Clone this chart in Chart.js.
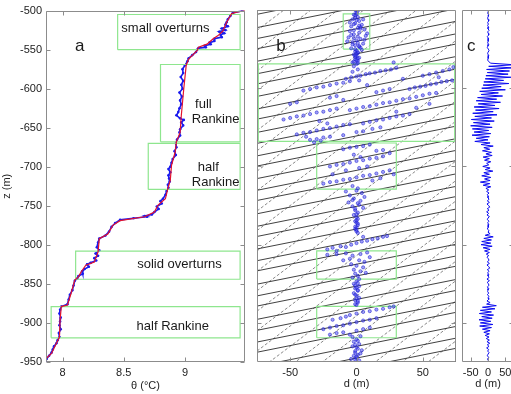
<!DOCTYPE html>
<html>
<head>
<meta charset="utf-8">
<script src="https://cdn.jsdelivr.net/npm/chart.js@4/dist/chart.umd.min.js"></script>
<style>
html, body { margin: 0; padding: 0; background: #fff; overflow: hidden; width: 511px; height: 394px; }
canvas { position: absolute; left: 0; top: 0; }
</style>
</head>
<body>
<canvas id="pa" width="511" height="394"></canvas>
<canvas id="pb" width="511" height="394"></canvas>
<canvas id="pc" width="530" height="394"></canvas>
<script>
// ---- tick values ----
var zTicks = [-500, -550, -600, -650, -700, -750, -800, -850, -900, -950];
var zTicksSide = [-600, -700, -800, -900];
var thetaTicks = [8, 8.5, 9];
var dTicks = [-50, 0, 50];

// ---- panel a: sorted (red) and observed (blue) profiles ----
var zSorted = [-500, -502, -504, -515, -526, -532, -536, -543, -547, -551, -562, -570, -600, -634, -656, -668, -681, -698, -717,
  -728, -741, -749, -758, -764, -769, -775, -786, -792, -809, -822, -826, -835, -841, -845, -862, -877, -879, -896, -918,
  -926, -939, -945, -950];
var thetaSorted = [9.49, 9.42, 9.38, 9.34, 9.31, 9.27, 9.23, 9.18, 9.11, 9.10, 9.03, 9.01, 8.99, 8.97, 8.96, 8.93, 8.92, 8.89, 8.88,
  8.86, 8.84, 8.78, 8.75, 8.67, 8.47, 8.41, 8.37, 8.30, 8.29, 8.26, 8.19, 8.15, 8.13, 8.10, 8.07, 8.04, 7.99, 7.98, 7.975,
  7.95, 7.91, 7.87, 7.86];

var zObs = [-500, -503, -507, -511, -515, -518, -520, -523, -525, -527, -529, -531, -534, -536, -539, -541, -543, -545, -547, -548,
  -550, -553, -557, -561, -565, -570, -575, -580, -585, -590, -595, -600, -605, -610, -615, -620, -625, -630, -634, -638,
  -640, -643, -647, -652, -656, -660, -665, -670, -675, -680, -685, -690, -695, -700, -703, -707, -711, -715, -719, -723,
  -727, -731, -736, -741, -744, -747, -751, -754, -758, -761, -763, -764, -766, -768, -772, -777, -783, -788, -792, -797,
  -803, -807, -811, -814, -817, -820, -823, -825, -828, -831, -834, -837, -840, -843, -846, -852, -858, -864, -870, -876,
  -879, -883, -888, -893, -898, -903, -908, -913, -918, -922, -926, -930, -934, -938, -942, -946, -950];
var thetaObs = [9.47, 9.39, 9.37, 9.35, 9.34, 9.33, 9.35, 9.30, 9.33, 9.28, 9.32, 9.29, 9.30, 9.24, 9.24, 9.20, 9.21, 9.16, 9.17, 9.11,
  9.10, 9.09, 9.06, 9.03, 9.02, 9.00, 8.98, 8.985, 8.965, 8.985, 8.97, 8.98, 8.955, 8.975, 8.96, 8.97, 8.955, 8.945, 8.93, 8.96,
  8.99, 8.97, 8.985, 8.96, 8.955, 8.96, 8.935, 8.925, 8.93, 8.915, 8.925, 8.90, 8.89, 8.88, 8.865, 8.88, 8.865, 8.87, 8.875, 8.86,
  8.865, 8.85, 8.84, 8.82, 8.80, 8.81, 8.77, 8.785, 8.75, 8.73, 8.67, 8.69, 8.58, 8.47, 8.43, 8.40, 8.38, 8.35, 8.30, 8.29,
  8.28, 8.30, 8.27, 8.29, 8.26, 8.275, 8.23, 8.20, 8.215, 8.18, 8.16, 8.165, 8.13, 8.12, 8.10, 8.09, 8.08, 8.06, 8.05, 8.04,
  7.99, 7.98, 7.975, 7.985, 7.98, 7.975, 7.985, 7.97, 7.975, 7.96, 7.95, 7.93, 7.92, 7.91, 7.89, 7.87, 7.86];

// ---- boxes [xmin, xmax, zmin, zmax] ----
var boxesA = [[8.45, 9.45, -550, -505], [8.80, 9.45, -668, -569], [8.70, 9.45, -729, -670], [8.107, 9.45, -844, -808], [7.907, 9.45, -919, -879]];
var boxesB = [[-10, 10, -550, -505], [-74, 74, -668, -569], [-30, 30, -729, -670], [-30, 30, -844, -808], [-30, 30, -919, -879]];

// ---- panel b: displacement scatter [d, z] by layer ----
var ptsTop = [[-1,-500],[0,-503],[-2,-506],[1,-509],[-3,-512],[2,-514],[-1,-517],[4,-519],[-4,-521],[1,-523],[6,-525],[-5,-527],
  [2,-529],[-2,-531],[7,-533],[-6,-535],[3,-537],[0,-539],[-3,-541],[5,-543],[-1,-545],[2,-547],[-4,-549],[8,-530],[-7,-540],
  [4,-551],[-1,-553],[1,-555],[-2,-557],[0,-559],[2,-561],[-1,-563],[1,-565],[-3,-567],[0,-569],[5,-512],[-5,-516],[3,-522],
  [-2,-526],[6,-538],[-3,-544],[1,-534],[3,-548],[0,-505],[-1,-510],[2,-520],[-2,-536],[1,-542],[0,-552],[-1,-560],
  [1,-501],[-1,-507],[0,-513],[-2,-518],[3,-524],[-4,-532],[2,-546],[-1,-550],[1,-554],[0,-556],[-1,-558],[1,-562],[0,-564],[-2,-566],[1,-568]];
var ptsFull = [[-8,-588],[-4,-586],[0,-585],[3,-584],[7,-582],[10,-581],[14,-580],[18,-578],[22,-577],[26,-576],[30,-574],
  [40,-601],[44,-599],[48,-598],[52,-597],[56,-595],[60,-594],[64,-592],[68,-591],[72,-590],
  [50,-584],[55,-582],[60,-580],[65,-578],[70,-576],[73,-573],[28,-567],
  [-40,-603],[-35,-601],[-30,-599],[-25,-598],[-20,-596],[-15,-594],[-10,-593],[-5,-591],
  [-5,-628],[0,-626],[5,-624],[10,-623],[15,-621],[20,-619],[25,-618],[30,-616],[35,-614],[40,-613],[45,-611],[50,-609],[55,-607],[60,-606],
  [-55,-640],[-50,-638],[-45,-636],[-40,-635],[-35,-633],[-30,-631],[-25,-630],[-20,-628],[-15,-626],
  [-45,-659],[-40,-657],[-35,-656],[-30,-654],[-25,-652],[-20,-651],[-15,-649],[-10,-647],[-5,-646],
  [5,-645],[10,-643],[15,-641],[20,-640],[25,-638],[30,-636],[35,-635],[40,-633],
  [-35,-666],[-30,-665],[-27,-667],[-25,-663],[-20,-662],[-32,-669],
  [0,-656],[5,-655],[12,-652],[18,-650],[-10,-660],
  [15,-605],[20,-603],[25,-601],[-20,-612],[-15,-610],[-10,-615],[30,-630],[45,-625],[55,-620],[-50,-620],[-45,-618],
  [-2,-572],[1,-576],[-3,-579],[2,-590],[8,-596],[-28,-642],[-22,-645],[-38,-662],[62,-586],[35,-588]];
var ptsHalf = [[-20,-700],[-15,-698],[-10,-697],[-5,-695],[0,-693],[5,-692],[10,-690],[15,-689],[20,-687],
  [-25,-722],[-20,-720],[-15,-719],[-10,-717],[-5,-716],[0,-714],[5,-712],[10,-711],[15,-709],[20,-707],[25,-705],
  [-10,-678],[-5,-676],[0,-675],[5,-674],[10,-672],[15,-680],[20,-679],[25,-683],
  [-2,-685],[3,-688],[-8,-705],[2,-702],[8,-700],[-3,-725],[1,-728],[12,-718],[18,-715],[28,-710],[-18,-710]];
var ptsMid = [[-8,-732],[4,-734],[-5,-737],[6,-739],[-2,-741],[3,-744],[-6,-746],[2,-749],[-3,-751],[5,-753],[-1,-756],[1,-759],
  [-2,-762],[0,-765],[1,-767],[-1,-770],[0,-772],[1,-775],[0,-778],[-1,-780],[0,-783],
  [0,-731],[-3,-743],[1,-747],[-1,-754],[0,-761],[0,-769],[1,-773],[-1,-777],[0,-781],[1,-785],
  [-22,-806],[-18,-804],[-12,-802],[-8,-803],[-4,-800],[0,-798],[4,-796],[8,-795],[12,-793],[16,-792],[20,-790],[23,-789],[-15,-808],[5,-790]];
var ptsSolid = [[-22,-813],[-15,-812],[-8,-811],[-3,-814],[3,-812],[8,-810],[-5,-818],[2,-820],[6,-822],[-4,-825],[0,-827],[5,-829],
  [-2,-832],[3,-834],[-1,-837],[1,-840],[-3,-842],[2,-844],[10,-816],[-10,-820],[7,-836],
  [0,-847],[-2,-850],[2,-853],[-1,-856],[1,-859],[-2,-862],[0,-865],[2,-868],[-1,-871],[1,-874],[0,-877],
  [1,-849],[-1,-852],[0,-855],[1,-858],[-1,-864],[0,-869],[1,-872],[-1,-876]];
var ptsLow = [[-5,-890],[0,-888],[5,-886],[10,-885],[15,-883],[20,-882],[25,-880],[28,-879],
  [-25,-908],[-20,-906],[-15,-904],[-10,-903],[-5,-901],[0,-899],[5,-897],[10,-896],[15,-894],
  [-18,-896],[-12,-894],[-8,-892],[-20,-915],[-15,-913],[-10,-912],[-5,-915],[0,-910],[5,-908],[10,-906],[-3,-918],[3,-917],
  [0,-921],[-2,-924],[2,-927],[-3,-930],[1,-933],[-1,-936],[3,-939],[-2,-942],[0,-945],[2,-948],[-4,-946],[4,-935],[-1,-928],
  [1,-923],[0,-931],[-1,-938],[1,-941],[0,-943],[-1,-947]];

// ---- panel b: guide lines, z at d = 0 ----
var isoZ0 = [-468, -480, -497, -511, -524, -540, -556, -569, -585, -601, -614, -631, -645, -661, -674, -690, -705, -718, -735,
  -751, -764, -780, -795, -808, -825, -840, -853, -870, -884, -899, -912, -930, -945, -958, -975];
var isoSlope = 0.34;
var rayZ0 = [-1045, -1019, -994, -968, -942, -917, -891, -866, -840, -814, -789, -763, -738, -712, -686, -661, -635, -610,
  -584, -558, -533, -507, -482, -456, -430, -405];
var raySlope = 1.28;

// ---- panel c: displacement every 2 m from z = -500 ----
var cTop = -500, cStep = 2;
var dC = [
  0, 1, -1, 2, 1, -1, 0, 2, -1, 1,
  -1, 2, 0, 3, -1, 1, 2, -2, 1, 0,
  1, -1, 2, 0, -2, 1, 3, 0, -1, 2,
  0, 1, -1, 2, 8, 75, 2, 70, -4, 62,
  -2, 58, -6, 66, -8, 45, -12, 60, -14, 38,
  -18, 50, -24, 30, -20, 42, -30, 25, -34, 36,
  -28, 20, -40, 32, -36, 15, -44, 26, -38, 10,
  -48, 18, -42, 6, -50, 12, -45, 2, -40, 8,
  -46, 4, -34, 0, -38, 6, -20, 15, -12, 5,
  -16, 10, -6, 12, -14, 4, -10, 8, -4, 2,
  -15, 6, -8, 14, -12, 4, -18, 8, -10, 6,
  -22, 5, -14, 8, -6, 2, -4, 3, -2, 1,
  0, 3, -2, 4, -3, 2, 5, -2, 3, -4,
  2, -3, 4, 0, -2, 3, -1, 2, 0, 1,
  -2, 3, 0, 6, -8, 15, -12, 10, -18, 8,
  -20, 12, -14, 6, -10, 4, -5, 2, -3, 1,
  3, -2, 4, -3, 2, 5, -2, 3, -1, 2,
  0, 3, -3, 4, -2, 1, 3, -2, 2, 0,
  -1, 2, -2, 3, 0, 2, -3, 6, -4, 24,
  -16, 20, -22, 10, -25, 16, -18, 12, -26, 8,
  -22, 14, -24, 10, -16, 6, -12, 4, -8, 3,
  -5, 4, -3, 5, -2, 3, -4, 2, -1, 3,
  0, -2, 2, -1, 0
];

Chart.defaults.font.family = "'Liberation Sans', Arial, sans-serif";
Chart.defaults.font.size = 11;
Chart.defaults.color = '#222';
Chart.defaults.animation = false;
Chart.defaults.events = [];
Chart.defaults.plugins.legend.display = false;
Chart.defaults.plugins.tooltip.enabled = false;

// frame with inward ticks on all four sides (MATLAB style)
var frame = {
  id: 'frame',
  afterDatasetsDraw: function (chart) {
    var c = chart.ctx, a = chart.chartArea, sx = chart.scales.x, sy = chart.scales.y;
    var L = Math.round(a.left) + 0.5, R = Math.round(a.right) - 0.5, T = Math.round(a.top) + 0.5, B = Math.round(a.bottom) - 0.5;
    c.save();
    c.strokeStyle = '#8c8c8c';
    c.lineWidth = 1;
    c.beginPath();
    c.rect(L, T, R - L, B - T);
    sx.ticks.forEach(function (t) {
      var p = Math.round(sx.getPixelForValue(t.value)) + 0.5;
      c.moveTo(p, B); c.lineTo(p, B - 4);
      c.moveTo(p, T); c.lineTo(p, T + 4);
    });
    sy.ticks.forEach(function (t) {
      var p = Math.round(sy.getPixelForValue(t.value)) + 0.5;
      c.moveTo(L, p); c.lineTo(L + 4, p);
      c.moveTo(R, p); c.lineTo(R - 4, p);
    });
    c.stroke();
    c.restore();
  }
};

// text placed at data coordinates
var notes = {
  id: 'notes',
  afterDatasetsDraw: function (chart, args, opts) {
    var c = chart.ctx, sx = chart.scales.x, sy = chart.scales.y;
    c.save();
    c.fillStyle = '#1a1a1a';
    c.textAlign = 'center';
    c.textBaseline = 'middle';
    (opts.items || []).forEach(function (n) {
      c.font = (n.size || 13) + "px 'Liberation Sans', Arial, sans-serif";
      c.fillText(n.text, sx.getPixelForValue(n.x), sy.getPixelForValue(n.y));
    });
    c.restore();
  }
};

function boxSets(boxes) {
  return boxes.map(function (b) {
    return {
      data: [{x: b[0], y: b[2]}, {x: b[1], y: b[2]}, {x: b[1], y: b[3]}, {x: b[0], y: b[3]}, {x: b[0], y: b[2]}],
      showLine: true, borderColor: '#8ee68e', borderWidth: 1.2, pointRadius: 0, order: 1
    };
  });
}

function pairs(xs, ys) {
  return xs.map(function (v, i) { return {x: v, y: ys[i]}; });
}

function fixTicks(list) {
  return function (s) { s.ticks = list.map(function (v) { return {value: v}; }); };
}

function plain(v) { return String(v); }

function yScale(width, showLabels, tickList, title) {
  return {
    type: 'linear', min: -950, max: -500,
    grid: {display: false, drawTicks: false}, border: {display: false},
    ticks: {display: showLabels, padding: 4, callback: plain},
    afterBuildTicks: fixTicks(tickList),
    afterFit: function (s) { s.width = width; },
    title: {display: !!title, text: title || '', padding: {top: 0, bottom: 0}, font: {size: 11}}
  };
}

function xScale(min, max, tickList, title, pad) {
  return {
    type: 'linear', min: min, max: max,
    grid: {display: false, drawTicks: false}, border: {display: false},
    ticks: {padding: 4, maxRotation: 0, callback: plain},
    afterBuildTicks: fixTicks(tickList),
    afterFit: function (s) { s.height = 32; },
    title: {display: true, text: title, padding: {top: 0, bottom: pad}, font: {size: 11}}
  };
}

// ---- panel a ----
new Chart(document.getElementById('pa'), {
  type: 'scatter',
  data: {
    datasets: [
      {data: pairs(thetaSorted, zSorted), showLine: true, borderColor: '#e3122d', borderWidth: 1.2, pointRadius: 0, order: 0},
      {data: pairs(thetaObs, zObs), showLine: true, borderColor: '#1a1aee', borderWidth: 1.6,
        pointRadius: 1.3, pointBackgroundColor: '#1a1aee', pointBorderWidth: 0, order: 2}
    ].concat(boxSets(boxesA))
  },
  options: {
    responsive: false,
    layout: {padding: {left: 0, top: 10, right: 266, bottom: 0}},
    scales: {
      x: xScale(7.865, 9.49, thetaTicks, 'θ (°C)', 1),
      y: yScale(46, true, zTicks, 'z (m)')
    },
    plugins: {
      notes: {items: [
        {text: 'a', x: 8.14, y: -546, size: 17},
        {text: 'small overturns', x: 8.84, y: -523},
        {text: 'full', x: 9.15, y: -620},
        {text: 'Rankine', x: 9.25, y: -639},
        {text: 'half', x: 9.19, y: -701},
        {text: 'Rankine', x: 9.25, y: -720},
        {text: 'solid overturns', x: 8.955, y: -825},
        {text: 'half Rankine', x: 8.90, y: -905}
      ]}
    }
  },
  plugins: [frame, notes]
});

// ---- panel b ----
var bLines = isoZ0.map(function (z0) {
  return {data: [{x: -75, y: z0 - 75 * isoSlope}, {x: 75, y: z0 + 75 * isoSlope}],
    showLine: true, borderColor: '#2b2b2b', borderWidth: 0.9, pointRadius: 0, order: 3};
}).concat(rayZ0.map(function (z0) {
  return {data: [{x: -75, y: z0 - 75 * raySlope}, {x: 75, y: z0 + 75 * raySlope}],
    showLine: true, borderColor: '#555', borderWidth: 0.7, borderDash: [3, 2], pointRadius: 0, order: 3};
}));
var bPts = ptsTop.concat(ptsFull, ptsHalf, ptsMid, ptsSolid, ptsLow).map(function (p) { return {x: p[0], y: p[1]}; });

new Chart(document.getElementById('pb'), {
  type: 'scatter',
  data: {
    datasets: [
      {data: bPts, pointRadius: 1.6, pointBackgroundColor: 'rgba(70,70,235,0.5)', pointBorderColor: 'rgba(20,20,210,0.85)',
        pointBorderWidth: 0.6, order: 0}
    ].concat(boxSets(boxesB), bLines)
  },
  options: {
    responsive: false,
    layout: {padding: {left: 257, top: 10, right: 55, bottom: 0}},
    scales: {
      x: xScale(-75, 75, dTicks, 'd (m)', 3),
      y: yScale(0, false, zTicksSide)
    },
    plugins: {notes: {items: [{text: 'b', x: -57, y: -546, size: 17}]}}
  },
  plugins: [frame, notes]
});

// ---- panel c ----
var cPts = dC.map(function (d, i) { return {x: d, y: cTop - i * cStep}; });

new Chart(document.getElementById('pc'), {
  type: 'scatter',
  data: {
    datasets: [
      {data: cPts, showLine: true, borderColor: '#0a0af0', borderWidth: 1, pointRadius: 0}
    ]
  },
  options: {
    responsive: false,
    layout: {padding: {left: 462, top: 10, right: 16, bottom: 0}},
    scales: {
      x: xScale(-75, 75, dTicks, 'd (m)', 3),
      y: yScale(0, false, zTicksSide)
    },
    plugins: {notes: {items: [{text: 'c', x: -48, y: -547, size: 17}]}}
  },
  plugins: [frame, notes]
});
</script>
</body>
</html>
